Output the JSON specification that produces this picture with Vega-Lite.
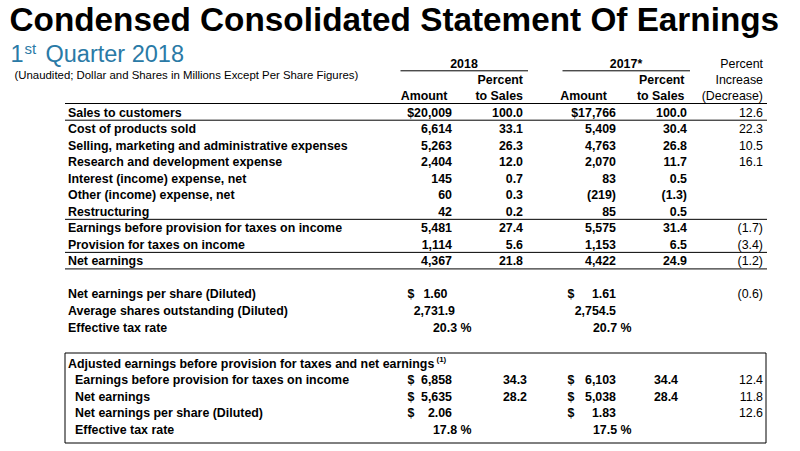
{
  "$schema": "https://vega.github.io/schema/vega-lite/v6.json",
  "width": 800,
  "height": 451,
  "autosize": {"type": "fit", "contains": "padding"},
  "padding": 0,
  "background": "white",
  "config": {"view": {"stroke": null}, "text": {"font": "Liberation Sans", "baseline": "alphabetic"}},
  "datasets": {
    "cells": [
      {"k": "title", "r": -6, "c": 0, "t": "Condensed Consolidated Statement Of Earnings"},
      {"k": "sub1", "r": -5, "c": 0, "t": "1"},
      {"k": "subst", "r": -5, "c": 0, "t": "st"},
      {"k": "subq", "r": -5, "c": 0, "t": "Quarter 2018"},
      {"k": "note", "r": -3, "c": 0, "t": "(Unaudited; Dollar and Shares in Millions Except Per Share Figures)"},
      {"k": "hb", "r": -4, "c": 10, "t": "2018"},
      {"k": "hb", "r": -4, "c": 16, "t": "2017*"},
      {"k": "hbr", "r": -2, "c": 11, "t": "Percent"},
      {"k": "hbr", "r": -1, "c": 11, "t": "to Sales"},
      {"k": "hbr", "r": -1, "c": 6, "t": "Amount"},
      {"k": "hbr", "r": -2, "c": 19, "t": "Percent"},
      {"k": "hbr", "r": -1, "c": 19, "t": "to Sales"},
      {"k": "hbr", "r": -1, "c": 14, "t": "Amount"},
      {"k": "hr", "r": -4, "c": 21, "t": "Percent"},
      {"k": "hr", "r": -2, "c": 21, "t": "Increase"},
      {"k": "hr", "r": -1, "c": 21, "t": "(Decrease)"},
      {"k": "lab", "r": 0, "c": 2, "t": "Sales to customers"},
      {"k": "lab", "r": 1, "c": 2, "t": "Cost of products sold"},
      {"k": "lab", "r": 2, "c": 2, "t": "Selling, marketing and administrative expenses"},
      {"k": "lab", "r": 3, "c": 2, "t": "Research and development expense"},
      {"k": "lab", "r": 4, "c": 2, "t": "Interest (income) expense, net"},
      {"k": "lab", "r": 5, "c": 2, "t": "Other (income) expense, net"},
      {"k": "lab", "r": 6, "c": 2, "t": "Restructuring"},
      {"k": "lab", "r": 7, "c": 2, "t": "Earnings before provision for taxes on income"},
      {"k": "lab", "r": 8, "c": 2, "t": "Provision for taxes on income"},
      {"k": "lab", "r": 9, "c": 2, "t": "Net earnings"},
      {"k": "lab", "r": 11, "c": 2, "t": "Net earnings per share (Diluted)"},
      {"k": "lab", "r": 12, "c": 2, "t": "Average shares outstanding (Diluted)"},
      {"k": "lab", "r": 13, "c": 2, "t": "Effective tax rate"},
      {"k": "lab", "r": 15, "c": 2, "t": "Adjusted earnings before provision for taxes and net earnings"},
      {"k": "lab", "r": 16, "c": 3, "t": "Earnings before provision for taxes on income"},
      {"k": "lab", "r": 17, "c": 3, "t": "Net earnings"},
      {"k": "lab", "r": 18, "c": 3, "t": "Net earnings per share (Diluted)"},
      {"k": "lab", "r": 19, "c": 3, "t": "Effective tax rate"},
      {"k": "sup", "r": 15, "c": 4, "t": "(1)"},

      {"k": "num", "r": 0, "c": 7, "t": "$20,009"},
      {"k": "num", "r": 0, "c": 11, "t": "100.0"},
      {"k": "num", "r": 0, "c": 15, "t": "$17,766\u00a0"},
      {"k": "num", "r": 0, "c": 20, "t": "100.0\u00a0"},
      {"k": "chg", "r": 0, "c": 21, "t": "12.6\u00a0"},
      {"k": "num", "r": 1, "c": 7, "t": "6,614"},
      {"k": "num", "r": 1, "c": 11, "t": "33.1"},
      {"k": "num", "r": 1, "c": 15, "t": "5,409\u00a0"},
      {"k": "num", "r": 1, "c": 20, "t": "30.4\u00a0"},
      {"k": "chg", "r": 1, "c": 21, "t": "22.3\u00a0"},
      {"k": "num", "r": 2, "c": 7, "t": "5,263"},
      {"k": "num", "r": 2, "c": 11, "t": "26.3"},
      {"k": "num", "r": 2, "c": 15, "t": "4,763\u00a0"},
      {"k": "num", "r": 2, "c": 20, "t": "26.8\u00a0"},
      {"k": "chg", "r": 2, "c": 21, "t": "10.5\u00a0"},
      {"k": "num", "r": 3, "c": 7, "t": "2,404"},
      {"k": "num", "r": 3, "c": 11, "t": "12.0"},
      {"k": "num", "r": 3, "c": 15, "t": "2,070\u00a0"},
      {"k": "num", "r": 3, "c": 20, "t": "11.7\u00a0"},
      {"k": "chg", "r": 3, "c": 21, "t": "16.1\u00a0"},
      {"k": "num", "r": 4, "c": 7, "t": "145"},
      {"k": "num", "r": 4, "c": 11, "t": "0.7"},
      {"k": "num", "r": 4, "c": 15, "t": "83\u00a0"},
      {"k": "num", "r": 4, "c": 20, "t": "0.5\u00a0"},
      {"k": "num", "r": 5, "c": 7, "t": "60"},
      {"k": "num", "r": 5, "c": 11, "t": "0.3"},
      {"k": "num", "r": 5, "c": 15, "t": "(219)"},
      {"k": "num", "r": 5, "c": 20, "t": "(1.3)"},
      {"k": "num", "r": 6, "c": 7, "t": "42"},
      {"k": "num", "r": 6, "c": 11, "t": "0.2"},
      {"k": "num", "r": 6, "c": 15, "t": "85\u00a0"},
      {"k": "num", "r": 6, "c": 20, "t": "0.5\u00a0"},
      {"k": "num", "r": 7, "c": 7, "t": "5,481"},
      {"k": "num", "r": 7, "c": 11, "t": "27.4"},
      {"k": "num", "r": 7, "c": 15, "t": "5,575\u00a0"},
      {"k": "num", "r": 7, "c": 20, "t": "31.4\u00a0"},
      {"k": "chg", "r": 7, "c": 21, "t": "(1.7)"},
      {"k": "num", "r": 8, "c": 7, "t": "1,114"},
      {"k": "num", "r": 8, "c": 11, "t": "5.6"},
      {"k": "num", "r": 8, "c": 15, "t": "1,153\u00a0"},
      {"k": "num", "r": 8, "c": 20, "t": "6.5\u00a0"},
      {"k": "chg", "r": 8, "c": 21, "t": "(3.4)"},
      {"k": "num", "r": 9, "c": 7, "t": "4,367"},
      {"k": "num", "r": 9, "c": 11, "t": "21.8"},
      {"k": "num", "r": 9, "c": 15, "t": "4,422\u00a0"},
      {"k": "num", "r": 9, "c": 20, "t": "24.9\u00a0"},
      {"k": "chg", "r": 9, "c": 21, "t": "(1.2)"},
      {"k": "dol", "r": 11, "c": 4, "t": "$"},
      {"k": "num", "r": 11, "c": 6, "t": "1.60"},
      {"k": "dol", "r": 11, "c": 13, "t": "$"},
      {"k": "num", "r": 11, "c": 15, "t": "1.61\u00a0"},
      {"k": "chg", "r": 11, "c": 21, "t": "(0.6)"},
      {"k": "num", "r": 12, "c": 8, "t": "2,731.9"},
      {"k": "num", "r": 12, "c": 15, "t": "2,754.5"},
      {"k": "num", "r": 13, "c": 9, "t": "20.3 %"},
      {"k": "num", "r": 13, "c": 17, "t": "20.7 %"},
      {"k": "dol", "r": 16, "c": 4, "t": "$"},
      {"k": "num", "r": 16, "c": 7, "t": "6,858"},
      {"k": "num", "r": 16, "c": 12, "t": "34.3"},
      {"k": "dol", "r": 16, "c": 13, "t": "$"},
      {"k": "num", "r": 16, "c": 15, "t": "6,103\u00a0"},
      {"k": "num", "r": 16, "c": 18, "t": "34.4"},
      {"k": "chg", "r": 16, "c": 21, "t": "12.4\u00a0"},
      {"k": "dol", "r": 17, "c": 4, "t": "$"},
      {"k": "num", "r": 17, "c": 7, "t": "5,635"},
      {"k": "num", "r": 17, "c": 12, "t": "28.2"},
      {"k": "dol", "r": 17, "c": 13, "t": "$"},
      {"k": "num", "r": 17, "c": 15, "t": "5,038\u00a0"},
      {"k": "num", "r": 17, "c": 18, "t": "28.4"},
      {"k": "chg", "r": 17, "c": 21, "t": "11.8\u00a0"},
      {"k": "dol", "r": 18, "c": 4, "t": "$"},
      {"k": "num", "r": 18, "c": 7, "t": "2.06"},
      {"k": "dol", "r": 18, "c": 13, "t": "$"},
      {"k": "num", "r": 18, "c": 15, "t": "1.83\u00a0"},
      {"k": "chg", "r": 18, "c": 21, "t": "12.6\u00a0"},
      {"k": "num", "r": 19, "c": 9, "t": "17.8 %"},
      {"k": "num", "r": 19, "c": 17, "t": "17.5 %"}
    ],
    "lines": [
      {"r": -1, "c": 1, "c2": 22},
      {"r": 0, "c": 1, "c2": 22},
      {"r": 6, "c": 1, "c2": 22},
      {"r": 8, "c": 1, "c2": 22},
      {"r": 9, "c": 1, "c2": 22}
    ],
    "unders": [
      {"r": -4, "c": 10, "c2": 10},
      {"r": -4, "c": 16, "c2": 16}
    ],
    "box": [
      {"r": 15, "r2": 19, "c": 1, "c2": 22}
    ]
  },
  "encoding": {
    "x": {
      "field": "c", "type": "quantitative", "axis": null,
      "scale": {
        "domain": [0, 1, 2, 3, 4, 5, 6, 7, 8, 9, 10, 11, 12, 13, 14, 15, 16, 17, 18, 19, 20, 21, 22],
        "range": [11.5, 65, 68, 75, 407.5, 443, 447.5, 452, 455, 471.5, 464, 523, 527, 567.5, 607, 616, 626, 631.5, 678, 684.5, 687, 763, 767],
        "nice": false, "zero": false
      }
    },
    "y": {
      "field": "r", "type": "quantitative", "axis": null,
      "scale": {
        "domain": [-6, -5, -4, -3, -2, -1, 0, 13, 15, 19],
        "range": [31, 62, 67.5, 78.5, 84, 100, 116.7, 331.5, 367.5, 433.5],
        "nice": false, "zero": false
      }
    }
  },
  "layer": [
    {
      "data": {"name": "box"},
      "mark": {"type": "rect", "filled": false, "stroke": "black", "strokeWidth": 1, "yOffset": -14.5, "y2Offset": 9.5, "x2Offset": -1},
      "encoding": {"x2": {"field": "c2"}, "y2": {"field": "r2"}}
    },
    {
      "data": {"name": "lines"},
      "mark": {"type": "rule", "stroke": "black", "strokeWidth": 1, "yOffset": 3.5},
      "encoding": {"x2": {"field": "c2"}}
    },
    {
      "data": {"name": "unders"},
      "mark": {"type": "rule", "stroke": "black", "strokeWidth": 1, "yOffset": 3.3, "xOffset": -63.5, "x2Offset": 64},
      "encoding": {"x2": {"field": "c2"}}
    },
    {
      "data": {"name": "cells"},
      "transform": [{"filter": "datum.k === 'title'"}],
      "mark": {"type": "text", "align": "left", "fontSize": 33.3, "fontWeight": "bold", "color": "black", "dx": -2},
      "encoding": {"text": {"field": "t", "type": "nominal"}}
    },
    {
      "data": {"name": "cells"},
      "transform": [{"filter": "datum.k === 'sub1'"}],
      "mark": {"type": "text", "align": "left", "fontSize": 23.5, "color": "#2a7aa6", "dx": -1},
      "encoding": {"text": {"field": "t", "type": "nominal"}}
    },
    {
      "data": {"name": "cells"},
      "transform": [{"filter": "datum.k === 'subst'"}],
      "mark": {"type": "text", "align": "left", "fontSize": 15, "color": "#2a7aa6", "dx": 13, "dy": -8},
      "encoding": {"text": {"field": "t", "type": "nominal"}}
    },
    {
      "data": {"name": "cells"},
      "transform": [{"filter": "datum.k === 'subq'"}],
      "mark": {"type": "text", "align": "left", "fontSize": 23.5, "color": "#2a7aa6", "dx": 34},
      "encoding": {"text": {"field": "t", "type": "nominal"}}
    },
    {
      "data": {"name": "cells"},
      "transform": [{"filter": "datum.k === 'note'"}],
      "mark": {"type": "text", "align": "left", "fontSize": 11.4, "color": "black", "dx": 3},
      "encoding": {"text": {"field": "t", "type": "nominal"}}
    },
    {
      "data": {"name": "cells"},
      "transform": [{"filter": "datum.k === 'hb'"}],
      "mark": {"type": "text", "align": "center", "fontSize": 12.4, "fontWeight": "bold", "color": "black"},
      "encoding": {"text": {"field": "t", "type": "nominal"}}
    },
    {
      "data": {"name": "cells"},
      "transform": [{"filter": "datum.k === 'hbr' || datum.k === 'num'"}],
      "mark": {"type": "text", "align": "right", "fontSize": 12.4, "fontWeight": "bold", "color": "black"},
      "encoding": {"text": {"field": "t", "type": "nominal"}}
    },
    {
      "data": {"name": "cells"},
      "transform": [{"filter": "datum.k === 'hr' || datum.k === 'chg'"}],
      "mark": {"type": "text", "align": "right", "fontSize": 12.4, "color": "black"},
      "encoding": {"text": {"field": "t", "type": "nominal"}}
    },
    {
      "data": {"name": "cells"},
      "transform": [{"filter": "datum.k === 'lab' || datum.k === 'dol'"}],
      "mark": {"type": "text", "align": "left", "fontSize": 12.4, "fontWeight": "bold", "color": "black"},
      "encoding": {"text": {"field": "t", "type": "nominal"}}
    },
    {
      "data": {"name": "cells"},
      "transform": [{"filter": "datum.k === 'sup'"}],
      "mark": {"type": "text", "align": "left", "fontSize": 8, "fontWeight": "bold", "color": "black", "dx": 29, "dy": -6},
      "encoding": {"text": {"field": "t", "type": "nominal"}}
    }
  ]
}
